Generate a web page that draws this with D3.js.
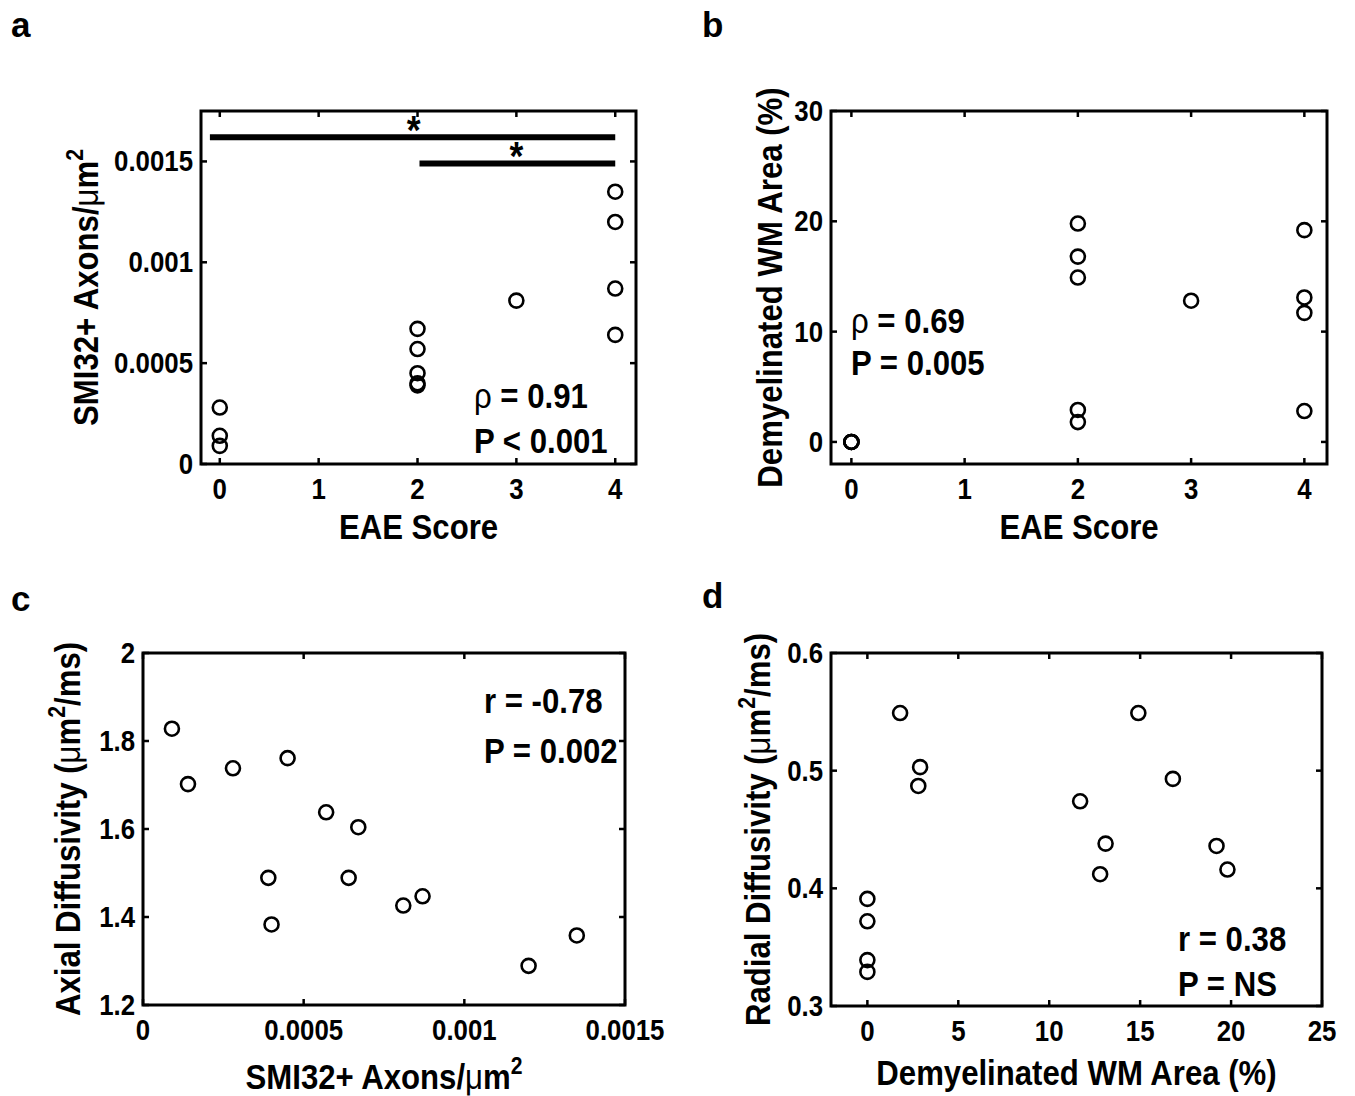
<!DOCTYPE html>
<html>
<head>
<meta charset="utf-8">
<script src="https://cdn.jsdelivr.net/npm/d3@7"></script>
<style>
  body { margin: 0; background: #fff; }
  text { font-family: "Liberation Sans", Arial, Helvetica, sans-serif; font-weight: bold; fill: #000; }
</style>
</head>
<body>
<svg id="fig" width="1355" height="1096"></svg>
<script>
// ---- data ----
// panels a and c: one entry per animal
const eaeScore = [0, 0, 0, 2, 2, 2, 2, 2, 3, 4, 4, 4, 4];
const smi32Density = [0.00028, 0.00014, 0.00009, 0.00067, 0.00057, 0.00045, 0.00039, 0.0004, 0.00081, 0.00135, 0.0012, 0.00087, 0.00064];
const axialDiff = [1.738, 1.702, 1.828, 1.604, 1.638, 1.761, 1.489, 1.383, 1.426, 1.358, 1.289, 1.447, 1.489];

// panels b and d
const eaeScoreB = [0, 0, 0, 0, 2, 2, 2, 2, 2, 3, 4, 4, 4, 4];
const demyelArea = [0, 0, 0, 0, 19.8, 16.8, 14.9, 2.9, 1.8, 12.8, 19.2, 13.1, 11.7, 2.8];
const radialDiff = [0.391, 0.372, 0.339, 0.329, 0.416, 0.493, 0.549, 0.503, 0.549, 0.412, 0.436, 0.438, 0.474, 0.487];

// ticks
const eaeTicks = [0, 1, 2, 3, 4];
const smi32Ticks = [0, 0.0005, 0.001, 0.0015];
const smi32TickLabels = ["0", "0.0005", "0.001", "0.0015"];
const demyelTicksB = [0, 10, 20, 30];
const axialTicks = [1.2, 1.4, 1.6, 1.8, 2];
const demyelTicksD = [0, 5, 10, 15, 20, 25];
const radialTicks = [0.3, 0.4, 0.5, 0.6];

// significance bars in panel a (data units)
const sigFrom = [-0.1, 2.02];
const sigTo = [4, 4];
const sigLevel = [0.00162, 0.00149];
const sigStar = [1.96, 3];

// statistics text
const statsA = [["ρ", " = 0.91"], ["", "P < 0.001"]];
const statsB = [["ρ", " = 0.69"], ["", "P = 0.005"]];
const statsC = [["", "r = -0.78"], ["", "P = 0.002"]];
const statsD = [["", "r = 0.38"], ["", "P = NS"]];

const svg = d3.select("#fig");
const squeeze = 0.89;   // the figure's font is a bit narrower than Arial

// text placed with a translate, optional rotation and horizontal squeeze
function txt(g, x, y, size, rot) {
    return g.append("text")
        .attr("transform", "translate(" + x + "," + y + ")" + (rot ? " rotate(" + rot + ")" : "") + " scale(" + squeeze + ",1)")
        .attr("font-size", size);
}

// parts: [text] or [text, "sup"] or [text, "sym"]
function richText(sel, parts, size) {
    let rise = 0;   // pixels the previous superscript moved up
    parts.forEach(p => {
        let t = sel.append("tspan").text(p[0]);
        if (p[1] === "sup") {
            rise = 0.42 * size;
            t.attr("font-size", 0.68 * size).attr("dy", -rise);
        } else {
            if (rise) { t.attr("dy", rise); rise = 0; }
            if (p[1] === "sym") t.attr("font-weight", "normal");
        }
    });
}

function drawPanel(p) {
    let vis = {};
    vis.g = svg.append("g");
    vis.x = d3.scaleLinear().domain(p.xDomain).range([p.box.l, p.box.r]);
    vis.y = d3.scaleLinear().domain(p.yDomain).range([p.box.b, p.box.t]);
    let x = vis.x, y = vis.y, g = vis.g;

    // inward ticks on all four sides
    let tickLen = 6;
    [p.box.b, p.box.t].forEach((edge, k) => {
        g.append("g").selectAll("line").data(p.xTicks).enter().append("line")
            .attr("x1", d => x(d)).attr("x2", d => x(d))
            .attr("y1", edge).attr("y2", k === 0 ? edge - tickLen : edge + tickLen)
            .attr("stroke", "#000").attr("stroke-width", 2.5);
    });
    [p.box.l, p.box.r].forEach((edge, k) => {
        g.append("g").selectAll("line").data(p.yTicks).enter().append("line")
            .attr("x1", edge).attr("x2", k === 0 ? edge + tickLen : edge - tickLen)
            .attr("y1", d => y(d)).attr("y2", d => y(d))
            .attr("stroke", "#000").attr("stroke-width", 2.5);
    });

    g.append("rect")
        .attr("x", p.box.l).attr("y", p.box.t)
        .attr("width", p.box.r - p.box.l).attr("height", p.box.b - p.box.t)
        .attr("fill", "none").attr("stroke", "#000").attr("stroke-width", 3);

    // tick labels
    p.xTicks.forEach((d, i) => {
        txt(g, x(d), p.box.b + 35, 29).attr("text-anchor", "middle")
            .text(p.xLabels ? p.xLabels[i] : d);
    });
    p.yTicks.forEach((d, i) => {
        txt(g, p.box.l - 8, y(d) + 10, 29).attr("text-anchor", "end")
            .text(p.yLabels ? p.yLabels[i] : d);
    });

    // axis titles
    let xt = txt(g, (p.box.l + p.box.r) / 2, p.box.b + p.xTitleOff, 35).attr("text-anchor", "middle");
    richText(xt, p.xTitle, 35);
    let yt = txt(g, p.yTitleX, (p.box.t + p.box.b) / 2, 35, -90).attr("text-anchor", "middle");
    richText(yt, p.yTitle, 35);

    // points
    g.append("g").selectAll("circle").data(p.xs).enter().append("circle")
        .attr("cx", d => x(d)).attr("cy", (d, i) => y(p.ys[i]))
        .attr("r", 7).attr("fill", "none")
        .attr("stroke", "#000").attr("stroke-width", 2.6);

    // stats
    p.stats.forEach((s, i) => {
        let t = txt(g, p.statX, p.statY[i], 35);
        if (s[0]) t.append("tspan").attr("font-weight", "normal").text(s[0]);
        t.append("tspan").text(s[1]);
    });

    // panel letter
    svg.append("text").attr("x", p.letterPos[0]).attr("y", p.letterPos[1])
        .attr("font-size", 35).text(p.letter);

    return vis;
}

const mu = [["μ", "sym"]];

let pa = drawPanel({
    letter: "a", letterPos: [11, 37],
    box: {l: 201, r: 636, t: 111, b: 464},
    xDomain: [-0.19, 4.21], yDomain: [0, 0.00175],
    xTicks: eaeTicks, yTicks: smi32Ticks, yLabels: smi32TickLabels,
    xs: eaeScore, ys: smi32Density,
    xTitle: [["EAE Score"]], xTitleOff: 75,
    yTitle: [["SMI32+ Axons/"]].concat(mu, [["m"], ["2", "sup"]]), yTitleX: 98,
    stats: statsA, statX: 474, statY: [408, 453]
});

// significance bars
sigLevel.forEach((lv, i) => {
    pa.g.append("line")
        .attr("x1", pa.x(sigFrom[i])).attr("x2", pa.x(sigTo[i]))
        .attr("y1", pa.y(lv)).attr("y2", pa.y(lv))
        .attr("stroke", "#000").attr("stroke-width", 6);
    txt(pa.g, pa.x(sigStar[i]), pa.y(lv) + 7, 40).attr("text-anchor", "middle").text("*");
});

drawPanel({
    letter: "b", letterPos: [702, 37],
    box: {l: 831, r: 1327, t: 111, b: 464},
    xDomain: [-0.18, 4.2], yDomain: [-2, 30],
    xTicks: eaeTicks, yTicks: demyelTicksB,
    xs: eaeScoreB, ys: demyelArea,
    xTitle: [["EAE Score"]], xTitleOff: 75,
    yTitle: [["Demyelinated WM Area (%)"]], yTitleX: 782,
    stats: statsB, statX: 851, statY: [333, 375]
});

drawPanel({
    letter: "c", letterPos: [11, 611],
    box: {l: 143, r: 625, t: 653, b: 1005},
    xDomain: [0, 0.0015], yDomain: [1.2, 2],
    xTicks: smi32Ticks, xLabels: smi32TickLabels, yTicks: axialTicks,
    xs: smi32Density, ys: axialDiff,
    xTitle: [["SMI32+ Axons/"]].concat(mu, [["m"], ["2", "sup"]]), xTitleOff: 84,
    yTitle: [["Axial Diffusivity ("]].concat(mu, [["m"], ["2", "sup"], ["/ms)"]]), yTitleX: 80,
    stats: statsC, statX: 484, statY: [713, 763]
});

drawPanel({
    letter: "d", letterPos: [702, 608],
    box: {l: 831, r: 1322, t: 653, b: 1006},
    xDomain: [-2, 25], yDomain: [0.3, 0.6],
    xTicks: demyelTicksD, yTicks: radialTicks,
    xs: demyelArea, ys: radialDiff,
    xTitle: [["Demyelinated WM Area (%)"]], xTitleOff: 79,
    yTitle: [["Radial Diffusivity ("]].concat(mu, [["m"], ["2", "sup"], ["/ms)"]]), yTitleX: 770,
    stats: statsD, statX: 1178, statY: [951, 996]
});
</script>
</body>
</html>
